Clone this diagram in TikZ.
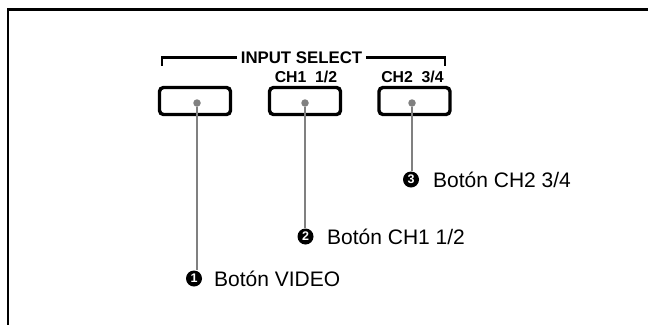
\documentclass[tikz,border=0pt]{standalone}
\usepackage{fontspec}
\setmainfont{Liberation Sans}
\begin{document}
\begin{tikzpicture}[x=1pt,y=-1pt,
  frame/.style={line width=2.4pt,black},
  btn/.style={draw=black,line width=3.4pt,rounded corners=4pt,minimum width=71pt,minimum height=27pt,inner sep=0pt},
  dotmark/.style={circle,fill=black!50,minimum size=7.5pt,inner sep=0pt},
  leader/.style={draw=black!50,line width=2.4pt},
  bracket/.style={line width=2.4pt,black},
  headtext/.style={font=\fontsize{16.8}{18}\selectfont\bfseries,inner sep=3.5pt},
  chtext/.style={font=\fontsize{15.8}{17}\selectfont\bfseries,inner sep=0pt},
  numcirc/.style={circle,fill=black,text=white,minimum size=16pt,inner sep=0pt,font=\fontsize{12.5}{13}\selectfont\bfseries},
  labtext/.style={font=\fontsize{21}{24}\selectfont,inner sep=0pt,anchor=base west}]
\useasboundingbox (0,0) rectangle (648,325);
\fill[white] (0,0) rectangle (648,325);
% frame
\coordinate (ftr) at (648,9.5);
\coordinate (ftl) at (7.7,9.5);
\coordinate (fbl) at (7.7,325);
\draw[frame] (ftr) -- (ftl) -- (fbl);
% heading
\node[headtext,anchor=base] (is) at (301.5,63.3) {INPUT SELECT};
\coordinate (bl) at (162,65.5);
\coordinate (br) at (445,65.5);
\draw[bracket] (is.west) -| (bl);
\draw[bracket] (is.east) -| (br);
\node[chtext,anchor=base] (ch1) at (306,82.7) {CH1\ \ 1/2};
\node[chtext,anchor=base] (ch2) at (412.5,82.7) {CH2\ \ 3/4};
% buttons
\node[btn] (b1) at (195,101) {};
\node[btn] (b2) at (305,101) {};
\node[btn] (b3) at (414.5,101) {};
% dots
\node[dotmark] (d1) at (197,103) {};
\node[dotmark] (d2) at (305,103) {};
\node[dotmark] (d3) at (412,103) {};
% labels
\node[numcirc] (n1) at (194,278.5) {1};
\node[labtext] (t1) at (214,286) {Botón VIDEO};
\node[numcirc] (n2) at (305.5,236.5) {2};
\node[labtext] (t2) at (327,244.5) {Botón CH1 1/2};
\node[numcirc] (n3) at (411,179.5) {3};
\node[labtext] (t3) at (433,187) {Botón CH2 3/4};
% leaders
\draw[leader] (d1) -- (d1 |- n1.north);
\draw[leader] (d2) -- (d2 |- n2.north);
\draw[leader] (d3) -- (d3 |- n3.north);
\end{tikzpicture}
\end{document}
